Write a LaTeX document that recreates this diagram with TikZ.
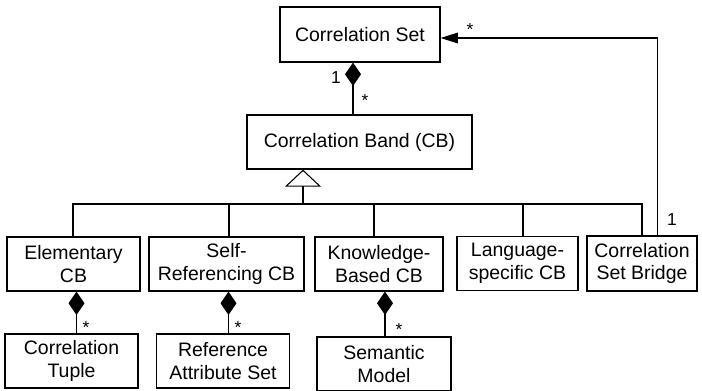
\documentclass[tikz,border=0pt]{standalone}
\usepackage{fontspec}
\setmainfont{Liberation Sans}
\usetikzlibrary{arrows.meta,calc}
\begin{document}
\begin{tikzpicture}[x=0.75pt,y=-0.75pt,
  box/.style={draw, line width=0.9pt, inner sep=0pt, align=center, font=\fontsize{14.6}{17}\selectfont},
  lbl/.style={font=\fontsize{13}{15}\selectfont, inner sep=0pt},
  conn/.style={line width=0.8pt},
  comp/.style={conn, {Diamond[length=17.5pt,width=12pt]}-},
  gen/.style={conn, {Triangle[open,length=12.75pt,width=27pt]}-},
  assoc/.style={conn, -{Triangle[length=13pt,width=8pt]}}]
\useasboundingbox (0,0) rectangle (702,390);

\node[box, minimum width=160*0.75pt, minimum height=55*0.75pt] (cs) at (360,34.5) {Correlation Set};
\node[box, minimum width=225*0.75pt, minimum height=54*0.75pt] (cb) at (359.5,142) {Correlation Band (CB)};

\node[box, minimum width=133*0.75pt, minimum height=54*0.75pt] (el) at (73.5,264) {Elementary\\CB};
\node[box, minimum width=155*0.75pt, minimum height=54*0.75pt] (sr) at (226.5,264) {Self-\\Referencing CB};
\node[box, minimum width=128*0.75pt, minimum height=54*0.75pt] (kb) at (379,264) {Knowledge-\\Based CB};
\node[box, minimum width=121*0.75pt, minimum height=54*0.75pt] (ls) at (517.5,263.5) {Language-\\specific CB};
\node[box, minimum width=110*0.75pt, minimum height=55*0.75pt] (csb) at (642,263.5) {Correlation\\Set Bridge};

\node[box, minimum width=133*0.75pt, minimum height=54*0.75pt] (ct) at (71.5,361) {Correlation\\Tuple};
\node[box, minimum width=133*0.75pt, minimum height=54*0.75pt] (ras) at (223,361) {Reference\\Attribute Set};
\node[box, minimum width=134*0.75pt, minimum height=54*0.75pt] (sm) at (384,364) {Semantic\\Model};

% composition Correlation Set -> CB
\draw[comp] ($(cs.south)+(-7,0)$) -- ($(cb.north)+(-6.5,0)$);
\node[lbl] (l1) at (336,78) {1};
\node[lbl] (l2) at (365,101) {*};

% generalization
\coordinate (j) at (303,204);
\draw[gen] (cb.south -| j) -- (j);
\draw[conn] (j) -| ($(el.north)+(-0.5,0)$);
\draw[conn] (j) -| ($(sr.north)+(2.5,0)$);
\draw[conn] (j) -| ($(kb.north)+(-5,0)$);
\draw[conn] (j) -| ($(ls.north)+(5.5,0)$);
\draw[conn] (j) -| (csb.north);

% association Correlation Set Bridge -> Correlation Set
\draw[assoc] ($(csb.north)+(15.5,0)$) |- ($(cs.east)+(0,3.5)$);
\node[lbl] (l3) at (470,30) {*};
\node[lbl] (l4) at (672,220) {1};

% lower compositions
\draw[comp] ($(el.south)+(3,0)$) -- ($(ct.north)+(5,0)$);
\node[lbl] (l5) at (86,328) {*};
\draw[comp] ($(sr.south)+(2,0)$) -- ($(ras.north)+(5.5,0)$);
\node[lbl] (l6) at (238,328) {*};
\draw[comp] ($(kb.south)+(6,0)$) -- ($(sm.north)+(1,0)$);
\node[lbl] (l7) at (399,330) {*};
\end{tikzpicture}
\end{document}
